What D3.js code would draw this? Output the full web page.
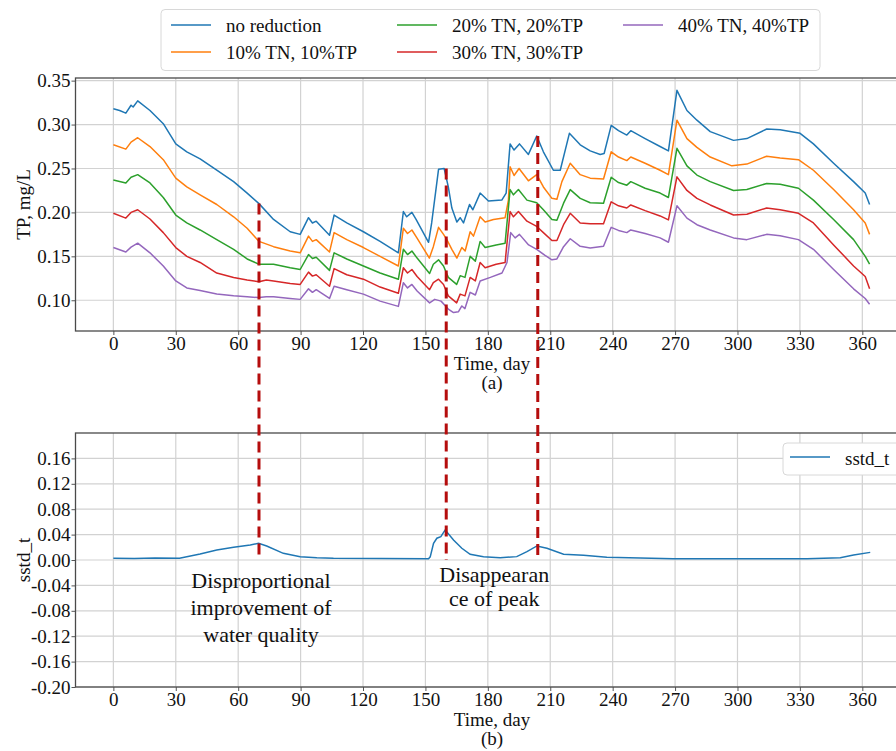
<!DOCTYPE html>
<html>
<head>
<meta charset="utf-8">
<script src="https://cdn.jsdelivr.net/npm/d3@7"></script>
<style>
  body { margin: 0; background: #fff; }
  svg { display: block; font-family: "Liberation Serif", "Times New Roman", serif; }
</style>
</head>
<body>
<svg id="chart" width="896" height="751"></svg>
<script>
'use strict';

// series as [day, TP mg/L]
var seriesNames = ['no reduction', '10% TN, 10%TP', '20% TN, 20%TP', '30% TN, 30%TP', '40% TN, 40%TP'];
var seriesColors = ['#1f77b4', '#ff7f0e', '#2ca02c', '#d62728', '#9467bd'];

var noReduction = [[0,0.318],[3,0.316],[6,0.313],[8.5,0.322],[9.5,0.320],[11.7,0.327],[17.6,0.316],[24,0.301],[30,0.278],[35.3,0.269],[41.7,0.261],[49.7,0.248],[57.8,0.235],[64.3,0.222],[70,0.210],[77,0.192],[85,0.178],[89.8,0.175],[93.8,0.194],[95.7,0.188],[97.5,0.190],[103.9,0.174],[106.1,0.197],[112.2,0.188],[120.2,0.178],[128.2,0.167],[137,0.154],[139.4,0.201],[141,0.195],[143.5,0.200],[145.5,0.192],[151.5,0.166],[153,0.188],[156.3,0.249],[159,0.250],[161,0.229],[162.7,0.205],[165.1,0.189],[166.7,0.194],[168.3,0.188],[171.2,0.209],[172.8,0.203],[176.3,0.222],[180.3,0.213],[186.7,0.214],[188.8,0.222],[190.7,0.278],[192.6,0.271],[195.2,0.278],[199.5,0.266],[203.5,0.287],[206.7,0.269],[211.5,0.248],[214.8,0.248],[219.2,0.290],[224.4,0.277],[229.2,0.270],[234,0.266],[235.9,0.267],[239.3,0.299],[242.8,0.293],[246.8,0.288],[248.7,0.293],[255.6,0.284],[262.8,0.275],[266.8,0.270],[270.9,0.339],[275.7,0.316],[280.5,0.305],[286.9,0.292],[298.1,0.282],[304.5,0.284],[314.1,0.295],[320.5,0.294],[330.1,0.290],[336.5,0.278],[346.2,0.256],[355.8,0.235],[361.4,0.222],[363.5,0.209]];

var cut10 = [[0,0.277],[6,0.272],[8.5,0.280],[11.7,0.285],[17.6,0.275],[24,0.260],[30,0.239],[35.3,0.229],[41.7,0.220],[49.7,0.209],[57.8,0.195],[64.3,0.182],[70,0.167],[77,0.161],[85,0.156],[89.8,0.154],[93.8,0.173],[95.7,0.167],[97.5,0.169],[103.9,0.155],[106.1,0.177],[112.2,0.169],[120.2,0.160],[128.2,0.150],[137,0.139],[139.4,0.182],[141.4,0.176],[143.5,0.180],[145.9,0.171],[151.9,0.148],[153.8,0.161],[156.3,0.183],[158.7,0.175],[160.3,0.169],[162.7,0.158],[165.1,0.148],[167.5,0.160],[169.1,0.156],[171.5,0.178],[173.1,0.173],[176.3,0.195],[178.7,0.189],[182.7,0.192],[188.3,0.194],[189.9,0.214],[190.7,0.252],[192.6,0.242],[195,0.250],[199.5,0.236],[203.5,0.243],[206.7,0.229],[210.8,0.216],[213.2,0.215],[215.6,0.235],[219.6,0.256],[224.4,0.243],[229.2,0.239],[235.6,0.238],[239.3,0.269],[242.8,0.263],[246.8,0.259],[248.7,0.263],[255.6,0.256],[262.8,0.248],[266.8,0.243],[270.9,0.305],[275.7,0.284],[280.5,0.274],[286.9,0.263],[297.3,0.253],[304.5,0.255],[314,0.264],[320.5,0.262],[329.3,0.260],[336.5,0.248],[346.2,0.226],[355.8,0.203],[361.4,0.188],[363.5,0.175]];

var cut20 = [[0,0.237],[6,0.2335],[8.5,0.240],[11.7,0.243],[17.6,0.2335],[24,0.217],[30,0.197],[35.3,0.188],[41.7,0.180],[49.7,0.169],[57.8,0.158],[64.3,0.147],[70,0.141],[77,0.141],[85,0.137],[89.8,0.135],[93.8,0.152],[95.7,0.1475],[97.5,0.149],[103.9,0.134],[106.1,0.154],[112.2,0.147],[120.2,0.139],[128.2,0.131],[137,0.124],[139.4,0.158],[141.4,0.152],[143.5,0.156],[146,0.148],[152,0.1305],[153.8,0.141],[156.3,0.146],[158.7,0.139],[161,0.126],[165,0.118],[166.7,0.128],[169,0.126],[171.5,0.150],[174,0.1445],[176.3,0.167],[178.7,0.160],[184,0.163],[188.3,0.165],[190.7,0.226],[192.3,0.220],[194.7,0.226],[198.8,0.214],[203.5,0.211],[206.7,0.203],[210.8,0.192],[213.2,0.191],[216.4,0.2105],[219.6,0.226],[224.4,0.216],[229.2,0.211],[235.6,0.2105],[239.3,0.240],[242.8,0.234],[246.8,0.231],[248.7,0.235],[255.6,0.2275],[262.8,0.222],[266.8,0.217],[270.9,0.273],[275.7,0.253],[280.5,0.2425],[286.9,0.235],[298.1,0.225],[304.5,0.226],[314,0.233],[320.5,0.232],[329.3,0.2275],[336.5,0.214],[346.2,0.192],[355.8,0.169],[361.4,0.150],[363.5,0.141]];

var cut30 = [[0,0.199],[6,0.1935],[8.5,0.200],[11.7,0.203],[17.6,0.1925],[24,0.177],[30,0.160],[35.3,0.150],[41.7,0.143],[49.7,0.131],[57.8,0.126],[64.3,0.123],[70,0.121],[73.5,0.123],[77,0.122],[85,0.119],[89.8,0.118],[93.8,0.132],[95.7,0.1275],[97.5,0.129],[103.9,0.116],[106.1,0.136],[112.2,0.129],[120.2,0.124],[128.2,0.115],[137,0.108],[139.4,0.137],[141.4,0.131],[143.5,0.135],[146,0.127],[152,0.112],[153.8,0.120],[156.3,0.124],[158.7,0.118],[161,0.105],[165,0.097],[166.7,0.107],[169,0.105],[171.5,0.126],[174,0.122],[176.3,0.143],[178.7,0.137],[184,0.141],[188.3,0.143],[190.7,0.201],[192.3,0.195],[194.7,0.201],[198.8,0.190],[203.5,0.184],[206.7,0.177],[210.8,0.168],[213.2,0.168],[216.4,0.186],[219.6,0.199],[224.4,0.188],[229.2,0.187],[235.6,0.187],[239.3,0.212],[242.8,0.2075],[246.8,0.205],[248.7,0.2085],[255.6,0.202],[262.8,0.196],[266.8,0.1915],[270.9,0.2405],[275.7,0.225],[280.5,0.216],[286.9,0.2085],[298.1,0.197],[304.5,0.198],[314,0.205],[320.5,0.203],[329.3,0.199],[336.5,0.188],[346.2,0.163],[355.8,0.139],[361.4,0.127],[363.5,0.113]];

var cut40 = [[0,0.160],[6,0.155],[8.5,0.1605],[11.7,0.165],[17.6,0.154],[24,0.139],[30,0.122],[35.3,0.114],[41.7,0.111],[49.7,0.107],[57.8,0.105],[64.3,0.104],[70,0.103],[73.5,0.104],[77,0.104],[85,0.102],[89.8,0.101],[93.8,0.113],[95.7,0.109],[97.5,0.112],[103.9,0.102],[106.1,0.116],[112.2,0.112],[120.2,0.107],[128.2,0.099],[137,0.093],[139.4,0.120],[141.4,0.114],[143.5,0.118],[146,0.1105],[152,0.097],[154.5,0.101],[157.5,0.099],[161,0.090],[163.5,0.086],[165.9,0.087],[167.5,0.0935],[169,0.0905],[171.5,0.109],[174,0.106],[176.3,0.122],[181.2,0.126],[186.8,0.131],[189.2,0.143],[191,0.177],[193.1,0.171],[195.2,0.175],[199.6,0.163],[203.5,0.158],[207.5,0.151],[210.8,0.146],[213.2,0.147],[216.4,0.161],[219.6,0.170],[224.4,0.1614],[229.2,0.1596],[235.6,0.1614],[239.3,0.183],[242.8,0.1795],[246.8,0.177],[248.7,0.180],[255.6,0.176],[262.8,0.171],[266.8,0.166],[270.9,0.2075],[275.7,0.1935],[280.5,0.186],[286.9,0.180],[298.1,0.171],[304.5,0.169],[314,0.175],[320.5,0.1735],[329.3,0.169],[336.5,0.158],[346.2,0.135],[355.8,0.113],[361.4,0.102],[363.5,0.0955]];

// spread between scenarios, [day, sstd_t]
var sstd = [[0,0.0027],[10,0.0025],[20,0.003],[31.8,0.0027],[41.7,0.0095],[49.7,0.0158],[57.8,0.020],[65.8,0.0237],[69.8,0.0264],[73.7,0.0221],[81.7,0.0105],[89.8,0.0053],[97.8,0.0037],[105.8,0.0027],[151.5,0.0021],[152.3,0.005],[153.9,0.0264],[155.5,0.0343],[157.4,0.0369],[159.5,0.0474],[163.5,0.0316],[167.5,0.0185],[171.5,0.009],[177.9,0.0053],[185.9,0.0037],[193.9,0.0053],[198.8,0.0132],[203.6,0.0221],[208.4,0.0185],[216.4,0.009],[226,0.0074],[237.2,0.0042],[253.2,0.0032],[269.1,0.0021],[301.3,0.0021],[333.4,0.0021],[349.4,0.0037],[355.8,0.0079],[363.8,0.012]];

var dayTicks = [0, 30, 60, 90, 120, 150, 180, 210, 240, 270, 300, 330, 360];
var tpTicks = [0.10, 0.15, 0.20, 0.25, 0.30, 0.35];
var sstdTicks = [-0.20, -0.16, -0.12, -0.08, -0.04, 0.00, 0.04, 0.08, 0.12, 0.16];

// marked days: where the dashed lines start on the no-reduction curve
var markDays = [70, 160, 204];
var markTop = [0.21, 0.25, 0.287];
var notes = [
  {day: 70, lines: ['Disproportional', 'improvement of', 'water quality']},
  {day: 160, lines: ['Disappearan', 'ce of peak']}
];

var allSeries = [noReduction, cut10, cut20, cut30, cut40];

var svg = d3.select('#chart');
var fontSize = 19;

var x = d3.scaleLinear().domain([-18.2, 382.2]).range([75.5, 908.5]);
var yTop = d3.scaleLinear().domain([0.065, 0.353]).range([331, 78]);
var yBot = d3.scaleLinear().domain([-0.2, 0.2]).range([687, 433]);

/**
 * grid, frame, ticks and axis titles of one panel
 */
function drawFrame(y, yTicks, yTitle, xSub) {
  var g = svg.append('g');
  var top = y.range()[1], bottom = y.range()[0];
  var left = x.range()[0], right = x.range()[1];

  // grid
  g.selectAll('.vg').data(dayTicks).enter().append('line')
    .attr('x1', d => x(d)).attr('x2', d => x(d))
    .attr('y1', top).attr('y2', bottom)
    .attr('stroke', '#d2d2d2').attr('stroke-width', 1.2);
  g.selectAll('.hg').data(yTicks).enter().append('line')
    .attr('x1', left).attr('x2', right)
    .attr('y1', d => y(d)).attr('y2', d => y(d))
    .attr('stroke', '#d2d2d2').attr('stroke-width', 1.2);

  // axes
  var ax = g.append('g').attr('transform', 'translate(0,' + bottom + ')')
    .call(d3.axisBottom(x).tickValues(dayTicks).tickSize(4).tickPadding(2).tickFormat(d3.format('d')));
  var ay = g.append('g').attr('transform', 'translate(' + left + ',0)')
    .call(d3.axisLeft(y).tickValues(yTicks).tickSize(4).tickPadding(1).tickFormat(d => d.toFixed(2)));
  [ax, ay].forEach(function (a) {
    a.attr('font-family', null).attr('font-size', fontSize);
    a.select('.domain').remove();
    a.selectAll('.tick line').attr('stroke', '#555');
    a.selectAll('.tick text').attr('fill', '#111');
  });

  // frame
  g.append('rect')
    .attr('x', left).attr('y', top)
    .attr('width', right - left).attr('height', bottom - top)
    .attr('fill', 'none').attr('stroke', '#4a4a4a').attr('stroke-width', 1.3);

  // titles
  var cx = (left + right) / 2;
  g.append('text').attr('x', cx).attr('y', bottom + 39)
    .attr('text-anchor', 'middle').attr('font-size', fontSize).attr('fill', '#111')
    .text('Time, day');
  g.append('text').attr('x', cx).attr('y', bottom + 58)
    .attr('text-anchor', 'middle').attr('font-size', fontSize).attr('fill', '#111')
    .text(xSub);
  g.append('text')
    .attr('transform', 'translate(23,' + ((top + bottom) / 2) + ') rotate(-90)')
    .attr('text-anchor', 'middle').attr('dominant-baseline', 'central')
    .attr('font-size', fontSize).attr('fill', '#111')
    .text(yTitle);
}

drawFrame(yTop, tpTicks, 'TP, mg/L', '(a)');
drawFrame(yBot, sstdTicks, 'sstd_t', '(b)');

// scenario lines
var lineTop = d3.line().x(d => x(d[0])).y(d => yTop(d[1]));
svg.append('g').selectAll('path').data(allSeries).enter().append('path')
  .attr('d', lineTop)
  .attr('fill', 'none')
  .attr('stroke', (d, i) => seriesColors[i])
  .attr('stroke-width', 1.5)
  .attr('stroke-linejoin', 'round');

// sstd line
var lineBot = d3.line().x(d => x(d[0])).y(d => yBot(d[1]));
svg.append('path').datum(sstd)
  .attr('d', lineBot)
  .attr('fill', 'none')
  .attr('stroke', '#1f77b4')
  .attr('stroke-width', 1.5);

// legend of the top panel, 3 columns
var leg = svg.append('g');
leg.append('rect').attr('x', 161).attr('y', 9.5).attr('width', 659).attr('height', 61).attr('rx', 4)
  .attr('fill', '#fff').attr('stroke', '#d8d8d8').attr('stroke-width', 1);
var colX = [171, 397, 623], rowY = [25, 52];
seriesNames.forEach(function (name, i) {
  var cx = colX[Math.floor(i / 2)], cy = rowY[i % 2];
  leg.append('line').attr('x1', cx).attr('x2', cx + 40).attr('y1', cy).attr('y2', cy)
    .attr('stroke', seriesColors[i]).attr('stroke-width', 1.5);
  leg.append('text').attr('x', cx + 55).attr('y', cy + 6.5)
    .attr('font-size', fontSize).attr('fill', '#111').text(name);
});

// legend of the bottom panel
var leg2 = svg.append('g');
leg2.append('rect').attr('x', 783).attr('y', 443).attr('width', 125).attr('height', 32).attr('rx', 4)
  .attr('fill', '#fff').attr('stroke', '#d8d8d8').attr('stroke-width', 1);
leg2.append('line').attr('x1', 790).attr('x2', 830).attr('y1', 457).attr('y2', 457)
  .attr('stroke', '#1f77b4').attr('stroke-width', 1.5);
leg2.append('text').attr('x', 845).attr('y', 465).attr('font-size', fontSize).attr('fill', '#111').text('sstd_t');

// dashed connectors from the top curve down to sstd = 0
svg.append('g').selectAll('line').data(markDays).enter().append('line')
  .attr('x1', d => x(d)).attr('x2', d => x(d))
  .attr('y1', (d, i) => yTop(markTop[i]))
  .attr('y2', yBot(0))
  .attr('stroke', '#b50d0d').attr('stroke-width', 3)
  .attr('stroke-dasharray', '11,6');

// annotations
var noteY = [[588, 615, 642], [582, 606]];
notes.forEach(function (n, k) {
  var cx = k === 0 ? x(n.day) + 2 : x(n.day) + 48;
  n.lines.forEach(function (t, j) {
    svg.append('text').attr('x', cx).attr('y', noteY[k][j])
      .attr('text-anchor', 'middle').attr('font-size', 22).attr('fill', '#111')
      .text(t);
  });
});
</script>
</body>
</html>
